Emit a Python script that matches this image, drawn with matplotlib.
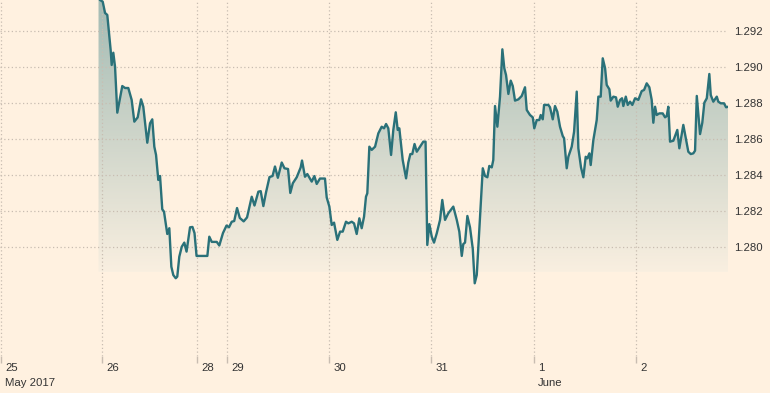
import numpy as np
import matplotlib
matplotlib.use("Agg")
import matplotlib.pyplot as plt
from matplotlib.colors import LinearSegmentedColormap
from matplotlib.patches import Polygon

# ---------------- data ----------------
# time in (trading-)days since 25 May 2017 00:00, weekend compressed
t_days = [
    0.956, 0.971, 0.997, 1.020, 1.042, 1.075, 1.085, 1.101, 1.118, 1.140,
    1.189, 1.216, 1.248, 1.281, 1.307, 1.340, 1.373, 1.395, 1.434, 1.461,
    1.483, 1.503, 1.520, 1.542, 1.559, 1.581, 1.598, 1.630, 1.650, 1.670,
    1.689, 1.713, 1.728, 1.748, 1.772, 1.797, 1.819, 1.853, 1.877, 1.897,
    1.917, 2.023, 2.042, 2.066, 2.115, 2.140, 2.176, 2.211, 2.235, 2.262,
    2.286, 2.314, 2.341, 2.379, 2.412, 2.434, 2.458, 2.485, 2.523, 2.546,
    2.572, 2.598, 2.632, 2.662, 2.686, 2.714, 2.752, 2.779, 2.814, 2.836,
    2.861, 2.899, 2.938, 2.951, 2.980, 3.003, 3.046, 3.072, 3.095, 3.127,
    3.176, 3.193, 3.219, 3.242, 3.265, 3.297, 3.324, 3.350, 3.382, 3.405,
    3.438, 3.461, 3.487, 3.513, 3.536, 3.559, 3.578, 3.591, 3.611, 3.634,
    3.667, 3.699, 3.732, 3.755, 3.775, 3.797, 3.824, 3.846, 3.870, 3.889,
    3.905, 3.938, 3.971, 3.993, 4.013, 4.032, 4.054, 4.076, 4.113, 4.140,
    4.162, 4.179, 4.199, 4.223, 4.245, 4.272, 4.304, 4.326, 4.353, 4.385,
    4.434, 4.468, 4.493, 4.517, 4.532, 4.549, 4.572, 4.598, 4.625, 4.644,
    4.664, 4.689, 4.723, 4.745, 4.768, 4.787, 4.811, 4.826, 4.843, 4.866,
    4.892, 4.915, 4.934, 4.951, 4.974, 4.997, 5.017, 5.039, 5.072, 5.105,
    5.137, 5.154, 5.186, 5.213, 5.228, 5.252, 5.277, 5.291, 5.311, 5.324,
    5.366, 5.382, 5.409, 5.431, 5.454, 5.480, 5.507, 5.520, 5.546, 5.562,
    5.595, 5.618, 5.644, 5.660, 5.686, 5.709, 5.732, 5.748, 5.768, 5.781,
    5.807, 5.840, 5.856, 5.879, 5.899, 5.922, 5.938, 5.964, 5.977, 6.003,
    6.029, 6.046, 6.069, 6.088, 6.101, 6.125, 6.144, 6.167, 6.189, 6.216,
    6.248, 6.281, 6.304, 6.330, 6.356, 6.379, 6.395, 6.412, 6.428, 6.454,
    6.487, 6.510, 6.526, 6.542, 6.559, 6.591, 6.630, 6.650, 6.689, 6.716,
    6.738, 6.762, 6.787, 6.804, 6.821, 6.836, 6.853, 6.875, 6.895, 6.919,
    6.944, 6.958, 6.983, 7.017, 7.032, 7.056, 7.088, 7.108, 7.130,
]

rate = [
    1.29383, 1.29372, 1.29363, 1.29300, 1.29289, 1.29094, 1.29011, 1.29079, 1.29001, 1.28746,
    1.28894, 1.28883, 1.28883, 1.28817, 1.28696, 1.28720, 1.28820, 1.28779, 1.28579, 1.28687,
    1.28709, 1.28557, 1.28511, 1.28372, 1.28394, 1.28209, 1.28196, 1.28072, 1.28104, 1.27890,
    1.27844, 1.27826, 1.27835, 1.27946, 1.28001, 1.28024, 1.27974, 1.28109, 1.28111, 1.28077,
    1.27950, 1.27950, 1.28057, 1.28028, 1.28028, 1.28008, 1.28077, 1.28119, 1.28109, 1.28140,
    1.28144, 1.28216, 1.28161, 1.28142, 1.28164, 1.28219, 1.28279, 1.28230, 1.28307, 1.28310,
    1.28227, 1.28303, 1.28388, 1.28394, 1.28447, 1.28384, 1.28469, 1.28437, 1.28433, 1.28300,
    1.28354, 1.28387, 1.28442, 1.28480, 1.28390, 1.28405, 1.28363, 1.28394, 1.28350, 1.28380,
    1.28380, 1.28275, 1.28224, 1.28122, 1.28135, 1.28039, 1.28085, 1.28085, 1.28140, 1.28131,
    1.28140, 1.28131, 1.28072, 1.28159, 1.28104, 1.28168, 1.28279, 1.28298, 1.28557, 1.28539,
    1.28557, 1.28631, 1.28668, 1.28659, 1.28683, 1.28659, 1.28511, 1.28650, 1.28748, 1.28650,
    1.28659, 1.28483, 1.28381, 1.28469, 1.28516, 1.28516, 1.28572, 1.28529, 1.28561, 1.28585,
    1.28585, 1.28011, 1.28127, 1.28057, 1.28024, 1.28076, 1.28150, 1.28261, 1.28150, 1.28187,
    1.28224, 1.28150, 1.28085, 1.27950, 1.28016, 1.28024, 1.28172, 1.28108, 1.27989, 1.27798,
    1.27844, 1.28094, 1.28437, 1.28394, 1.28387, 1.28450, 1.28442, 1.28483, 1.28783, 1.28668,
    1.28835, 1.29098, 1.28993, 1.28955, 1.28850, 1.28924, 1.28894, 1.28813, 1.28820, 1.28839,
    1.28887, 1.28761, 1.28733, 1.28720, 1.28659, 1.28705, 1.28705, 1.28733, 1.28709, 1.28789,
    1.28789, 1.28776, 1.28709, 1.28783, 1.28751, 1.28668, 1.28616, 1.28604, 1.28437, 1.28501,
    1.28557, 1.28640, 1.28863, 1.28548, 1.28442, 1.28387, 1.28501, 1.28492, 1.28520, 1.28455,
    1.28594, 1.28705, 1.28835, 1.28835, 1.29048, 1.28993, 1.28900, 1.28876, 1.28813, 1.28835,
    1.28831, 1.28779, 1.28817, 1.28826, 1.28783, 1.28835, 1.28789, 1.28807, 1.28789, 1.28826,
    1.28817, 1.28866, 1.28872, 1.28909, 1.28887, 1.28817, 1.28690, 1.28779, 1.28733, 1.28742,
    1.28742, 1.28720, 1.28727, 1.28779, 1.28585, 1.28590, 1.28650, 1.28548, 1.28678, 1.28594,
    1.28529, 1.28516, 1.28520, 1.28535, 1.28839, 1.28742, 1.28627, 1.28690, 1.28801, 1.28826,
    1.28961, 1.28844, 1.28807, 1.28835, 1.28807, 1.28798, 1.28798, 1.28776, 1.28779,
]

x_tick_pos = [0.0, 0.99, 1.922, 2.216, 3.216, 4.216, 5.225, 6.225]
x_tick_labels = ["25", "26", "28", "29", "30", "31", "1", "2"]
x_sub_labels = ["May 2017", "", "", "", "", "", "June", ""]

y_ticks = [1.280, 1.282, 1.284, 1.286, 1.288, 1.290, 1.292]

# ---------------- style ----------------
BG = "#fff1e0"
LINE = "#2a7179"
GRID = "#c8bdb1"
TXT = "#333333"
FILL_TOP = "#a3bbb4"
FILL_BOT = "#f9efe0"

W, H = 770, 393
fig = plt.figure(figsize=(W / 100, H / 100), dpi=100, facecolor=BG)
ax_left, ax_right, ax_bottom_px = 0, 728, 356
ax = fig.add_axes([ax_left / W, 1 - ax_bottom_px / H, (ax_right - ax_left) / W, ax_bottom_px / H])
ax.set_facecolor(BG)

x = np.array(t_days)
y = np.array(rate)

xlim = (-0.0098, 7.127)
ylim = (1.27394, 1.29372)
fade_bottom = 1.27861

# gradient fill under the line, ending at fade_bottom
ny = 600
vals = np.linspace(ylim[1], ylim[0], ny)
tgrad = (vals - fade_bottom) / (ylim[1] - fade_bottom)
tgrad = np.ma.masked_less(tgrad, 0).reshape(-1, 1)
cmap = LinearSegmentedColormap.from_list("g", [FILL_BOT, FILL_TOP])
cmap.set_bad((0, 0, 0, 0))
im = ax.imshow(tgrad, extent=[xlim[0], xlim[1], ylim[0], ylim[1]], aspect="auto",
               cmap=cmap, vmin=0, vmax=1, origin="upper", zorder=1, interpolation="nearest")
verts = np.column_stack([np.r_[x, x[::-1]], np.r_[y, np.full(len(x), ylim[0])]])
poly = Polygon(verts, closed=True, facecolor="none", edgecolor="none", transform=ax.transData)
ax.add_patch(poly)
im.set_clip_path(poly)

ax.plot(x, y, color=LINE, lw=1.7, zorder=3, solid_joinstyle="round")

ax.set_xlim(*xlim)
ax.set_ylim(*ylim)

for s in ax.spines.values():
    s.set_visible(False)

ax.set_yticks(y_ticks)
ax.set_yticklabels([f"{v:.3f}" for v in y_ticks])
ax.yaxis.tick_right()
ax.tick_params(axis="y", length=0, pad=4.5, labelsize=8.2, labelcolor=TXT)
for lab in ax.get_yticklabels():
    lab.set_fontfamily(["Liberation Sans", "DejaVu Sans"])

ax.set_xticks(x_tick_pos)
ax.set_xticklabels([])
ax.tick_params(axis="x", length=5, width=1, color="#c8bdb1", direction="out")

ax.grid(True, axis="both", color=GRID, lw=0.9, linestyle=(0, (1, 2)))

for pos, lab, sub in zip(x_tick_pos, x_tick_labels, x_sub_labels):
    ax.annotate(lab, xy=(pos, 0), xycoords=("data", "axes fraction"),
                xytext=(4, -12), textcoords="offset pixels", ha="left", va="center",
                fontsize=8.2, color=TXT, family=["Liberation Sans", "DejaVu Sans"],
                annotation_clip=False)
    if sub:
        ax.annotate(sub, xy=(pos, 0), xycoords=("data", "axes fraction"),
                    xytext=(4, -27), textcoords="offset pixels", ha="left", va="center",
                    fontsize=8.2, color=TXT, family=["Liberation Sans", "DejaVu Sans"],
                    annotation_clip=False)

fig.savefig("out.png", dpi=100, facecolor=BG)
